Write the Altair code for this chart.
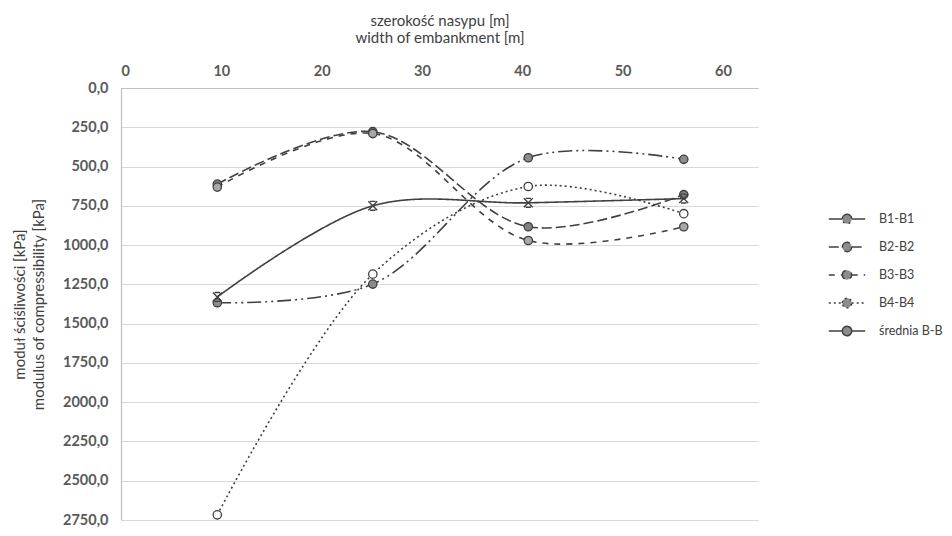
import altair as alt
import pandas as pd

# ---- data ----
x_width = [9.6, 25.1, 40.6, 56.1]
series_names = ["B1-B1", "B2-B2", "B3-B3", "B4-B4", "średnia B-B"]
b1 = [1367, 1248, 444, 454]
b2 = [612, 278, 883, 679]
b3 = [631, 290, 971, 883]
b4 = [2717, 1185, 627, 800]
srednia = [1330, 750, 731, 704]

x_ticks = [0, 10, 20, 30, 40, 50, 60]
y_ticks = [0, 250, 500, 750, 1000, 1250, 1500, 1750, 2000, 2250, 2500, 2750]

rows = []
for name, vals in zip(series_names, [b1, b2, b3, b4, srednia]):
    for xv, yv in zip(x_width, vals):
        rows.append({"series": name, "x": xv, "y": yv})
df = pd.DataFrame(rows)

dash_range = [[14, 4, 2, 4, 2, 4], [10, 4], [6, 6], [2, 3], [1, 0]]
fill_range = ["#8c8c8c", "#808080", "#a8a8a8", "#ffffff", "#404040"]
x_path = "M-1,-1L1,1M-1,1L1,-1M-0.6,-1L0.6,-1M-0.6,1L0.6,1"
leg_circle = ("M-1.4,0L-0.36,0M0.36,0L1.4,0"
              "M-0.36,0A0.36,0.36 0 1,1 0.36,0A0.36,0.36 0 1,1 -0.36,0")

font = "Lato"
ink = "#404040"

legend = alt.Legend(
    title=None, orient="none", legendX=712, legendY=117, padding=0,
    symbolType=leg_circle, symbolSize=676,
    symbolStrokeColor=ink, symbolStrokeWidth=1.5, symbolOpacity=1,
    symbolFillColor="#8c8c8c",
    labelOffset=18, rowPadding=6, labelFontSize=12.5, labelColor=ink,
    labelFont=font, labelLimit=200,
)

x_scale = alt.Scale(domain=[0, 63.5], nice=False, zero=False)
y_scale = alt.Scale(domain=[0, 2750], reverse=True, nice=False)
dash_scale = alt.Scale(domain=series_names, range=dash_range)

x_enc = alt.X(
    "x:Q", scale=x_scale,
    axis=alt.Axis(
        orient="top", values=x_ticks, grid=False, ticks=False,
        title=["szerokość nasypu [m]", "width of embankment [m]"],
        labelPadding=10, titlePadding=18, labelOverlap=False,
        titleLineHeight=17,
    ),
)
y_enc = alt.Y(
    "y:Q", scale=y_scale,
    axis=alt.Axis(
        values=y_ticks, grid=True, ticks=False, labelOverlap=False,
        labelExpr="replace(format(datum.value, '.1f'), '.', ',')",
        title=["moduł ściśliwości [kPa]", "modulus of compressibility  [kPa]"],
        labelPadding=13, titlePadding=16, titleLineHeight=19,
    ),
)

base = alt.Chart(df)

lines = base.mark_line(
    interpolate="catmull-rom", color=ink, strokeWidth=1.6
).encode(
    x=x_enc, y=y_enc,
    strokeDash=alt.StrokeDash("series:N", scale=dash_scale, legend=legend),
    order="x:Q",
)

layers = [lines]
for name, fillc in zip(series_names, fill_range):
    sub = base.transform_filter(alt.datum.series == name)
    if name == "średnia B-B":
        layers.append(
            sub.mark_point(
                shape=x_path, filled=False, stroke=ink, strokeWidth=1.4,
                size=80, opacity=1
            ).encode(x=x_enc, y=y_enc)
        )
    else:
        layers.append(
            sub.mark_point(
                shape="circle", filled=True, fill=fillc, stroke=ink,
                strokeWidth=1.3, size=70, opacity=1
            ).encode(x=x_enc, y=y_enc)
        )

chart = alt.layer(*layers).properties(
    width=637, height=432,
    autosize=alt.AutoSizeParams(type="none"),
    padding={"left": 113, "top": 80, "right": 186, "bottom": 8},
).configure_view(stroke=None).configure_axis(
    labelFont=font, titleFont=font, labelFontSize=14.5, titleFontSize=15,
    labelColor="#595959", titleColor=ink, titleFontWeight="normal",
    labelFontWeight="bold",
    domainColor="#bfbfbf", gridColor="#d9d9d9", domainWidth=1.2,
)

chart.save("out.html", embed_options={"renderer": "svg", "actions": False})
